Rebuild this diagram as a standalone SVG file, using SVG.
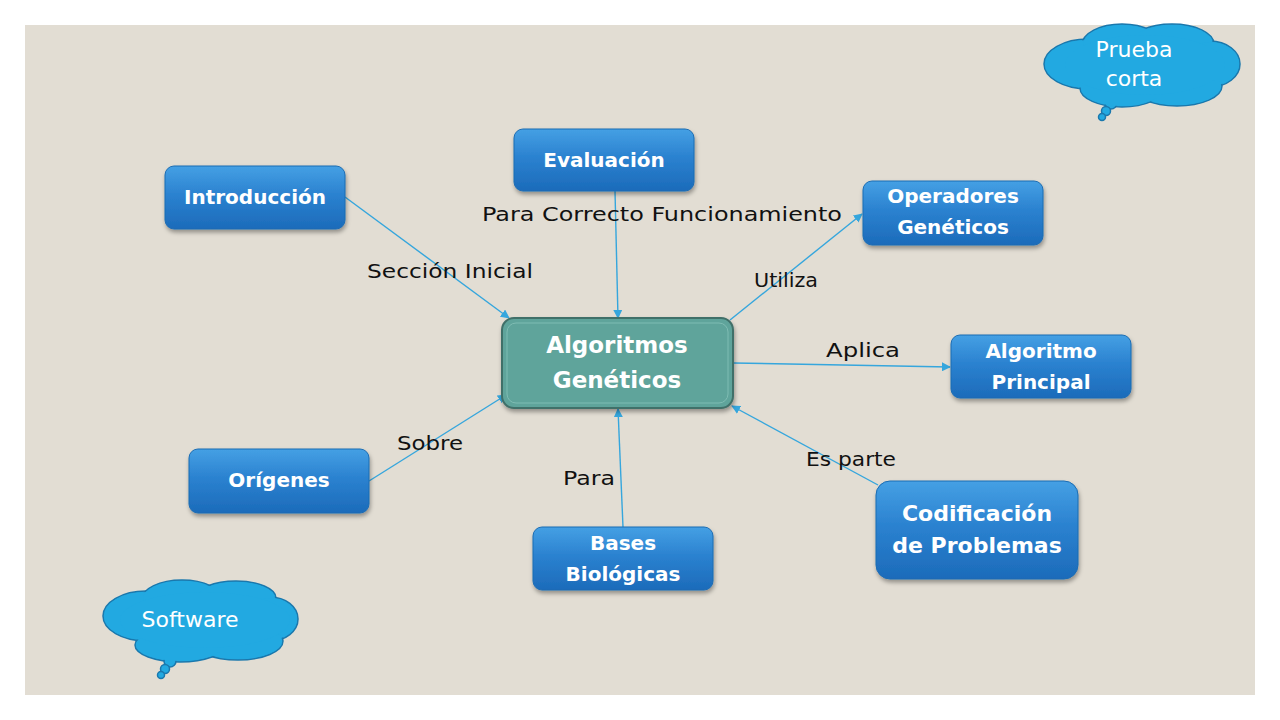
<svg xmlns="http://www.w3.org/2000/svg" width="1280" height="720" viewBox="0 0 1280 720">
<defs>
<linearGradient id="blue" x1="0" y1="0" x2="0" y2="1">
<stop offset="0" stop-color="#45a0e4"/>
<stop offset="0.45" stop-color="#2b82d0"/>
<stop offset="1" stop-color="#1c6bba"/>
</linearGradient>
<filter id="sh" x="-20%" y="-20%" width="140%" height="150%">
<feDropShadow dx="1" dy="3" stdDeviation="2" flood-color="#000" flood-opacity="0.35"/>
</filter>
<marker id="ah" viewBox="0 0 10 10" refX="9" refY="5" markerWidth="9" markerHeight="9" markerUnits="userSpaceOnUse" orient="auto">
<path d="M0,0 L10,5 L0,10 z" fill="#35a6dd"/>
</marker>
<style>
.node rect.b{fill:url(#blue);stroke:#1b6cb3;stroke-width:1;filter:url(#sh)}
.nt{font-family:"DejaVu Sans",sans-serif;font-weight:bold;font-size:20px;fill:#fff;text-anchor:middle}
.lbl{font-family:"DejaVu Sans",sans-serif;font-size:20px;fill:#111;text-anchor:middle}
.conn line{stroke:#35a6dd;stroke-width:1.4;marker-end:url(#ah)}
.cl{fill:#22a9e1;stroke:#1a78ad;stroke-width:1.5}
.cf{fill:#22a9e1}
.ct{font-family:"DejaVu Sans",sans-serif;font-size:22px;fill:#fff;text-anchor:middle}
</style>
</defs>
<rect width="1280" height="720" fill="#fff"/>
<rect x="25" y="25" width="1230" height="670" fill="#e2ddd3"/>

<g id="connectors" class="conn">
<line x1="345" y1="197" x2="509" y2="318"/>
<line x1="615" y1="191" x2="618" y2="318"/>
<line x1="730" y1="320" x2="862" y2="214"/>
<line x1="733" y1="363" x2="950" y2="367"/>
<line x1="369" y1="481" x2="506" y2="395"/>
<line x1="623" y1="527" x2="618" y2="409"/>
<line x1="878" y1="485" x2="732" y2="406"/>
</g>

<g id="labels">
<text class="lbl" x="662" y="221" textLength="360" lengthAdjust="spacingAndGlyphs">Para Correcto Funcionamiento</text>
<text class="lbl" x="450" y="278" textLength="166" lengthAdjust="spacingAndGlyphs">Sección Inicial</text>
<text class="lbl" x="786" y="287" textLength="64" lengthAdjust="spacingAndGlyphs">Utiliza</text>
<text class="lbl" x="863" y="357" textLength="74" lengthAdjust="spacingAndGlyphs">Aplica</text>
<text class="lbl" x="430" y="450" textLength="66" lengthAdjust="spacingAndGlyphs">Sobre</text>
<text class="lbl" x="851" y="466" textLength="90" lengthAdjust="spacingAndGlyphs">Es parte</text>
<text class="lbl" x="589" y="485" textLength="52" lengthAdjust="spacingAndGlyphs">Para</text>
</g>

<g id="n-central">
<rect x="502" y="318" width="231" height="90" rx="12" fill="#5fa49b" stroke="#416f69" stroke-width="2" filter="url(#sh)"/>
<rect x="507" y="323" width="221" height="80" rx="9" fill="none" stroke="#7fbcb3" stroke-width="1"/>
<text class="nt" x="617" y="353" style="font-size:23px">Algoritmos</text>
<text class="nt" x="617" y="388" style="font-size:23px">Genéticos</text>
</g>

<g id="n-evaluacion" class="node">
<rect class="b" x="514" y="129" width="180" height="62" rx="9"/>
<text class="nt" x="604" y="167">Evaluación</text>
</g>
<g id="n-introduccion" class="node">
<rect class="b" x="165" y="166" width="180" height="63" rx="9"/>
<text class="nt" x="255" y="204">Introducción</text>
</g>
<g id="n-operadores" class="node">
<rect class="b" x="863" y="181" width="180" height="64" rx="9"/>
<text class="nt" x="953" y="203">Operadores</text>
<text class="nt" x="953" y="234">Genéticos</text>
</g>
<g id="n-principal" class="node">
<rect class="b" x="951" y="335" width="180" height="63" rx="9"/>
<text class="nt" x="1041" y="358">Algoritmo</text>
<text class="nt" x="1041" y="389">Principal</text>
</g>
<g id="n-origenes" class="node">
<rect class="b" x="189" y="449" width="180" height="64" rx="9"/>
<text class="nt" x="279" y="487">Orígenes</text>
</g>
<g id="n-bases" class="node">
<rect class="b" x="533" y="527" width="180" height="63" rx="9"/>
<text class="nt" x="623" y="550">Bases</text>
<text class="nt" x="623" y="581">Biológicas</text>
</g>
<g id="n-codificacion" class="node">
<rect class="b" x="876" y="481" width="202" height="98" rx="14"/>
<text class="nt" x="977" y="521" style="font-size:22px">Codificación</text>
<text class="nt" x="977" y="553" style="font-size:22px">de Problemas</text>
</g>

<g id="cloud-prueba">
<g class="cl">
<ellipse cx="1088" cy="64" rx="44" ry="25"/>
<ellipse cx="1122" cy="45" rx="40" ry="21"/>
<ellipse cx="1172" cy="44" rx="42" ry="20"/>
<ellipse cx="1210" cy="64" rx="30" ry="23"/>
<ellipse cx="1177" cy="86" rx="45" ry="20"/>
<ellipse cx="1122" cy="88" rx="42" ry="19"/>
<circle cx="1111" cy="103" r="6"/>
<circle cx="1106" cy="111" r="4.5"/>
<circle cx="1102" cy="117" r="3.5"/>
</g>
<g class="cf">
<ellipse cx="1088" cy="64" rx="43" ry="24"/>
<ellipse cx="1122" cy="45" rx="39" ry="20"/>
<ellipse cx="1172" cy="44" rx="41" ry="19"/>
<ellipse cx="1210" cy="64" rx="29" ry="22"/>
<ellipse cx="1177" cy="86" rx="44" ry="19"/>
<ellipse cx="1122" cy="88" rx="41" ry="18"/>
<ellipse cx="1145" cy="65" rx="80" ry="30"/>
</g>
<text class="ct" x="1134" y="57">Prueba</text>
<text class="ct" x="1134" y="86">corta</text>
</g>

<g id="cloud-software">
<g class="cl">
<ellipse cx="146" cy="616" rx="43" ry="25"/>
<ellipse cx="182" cy="599" rx="40" ry="19"/>
<ellipse cx="236" cy="598" rx="40" ry="17"/>
<ellipse cx="270" cy="619" rx="28" ry="22"/>
<ellipse cx="238" cy="641" rx="45" ry="19"/>
<ellipse cx="180" cy="645" rx="45" ry="17"/>
<circle cx="170" cy="661" r="6"/>
<circle cx="165" cy="669" r="4.5"/>
<circle cx="161" cy="675" r="3.5"/>
</g>
<g class="cf">
<ellipse cx="146" cy="616" rx="42" ry="24"/>
<ellipse cx="182" cy="599" rx="39" ry="18"/>
<ellipse cx="236" cy="598" rx="39" ry="16"/>
<ellipse cx="270" cy="619" rx="27" ry="21"/>
<ellipse cx="238" cy="641" rx="44" ry="18"/>
<ellipse cx="180" cy="645" rx="44" ry="16"/>
<ellipse cx="205" cy="620" rx="85" ry="28"/>
</g>
<text class="ct" x="190" y="627">Software</text>
</g>
</svg>
